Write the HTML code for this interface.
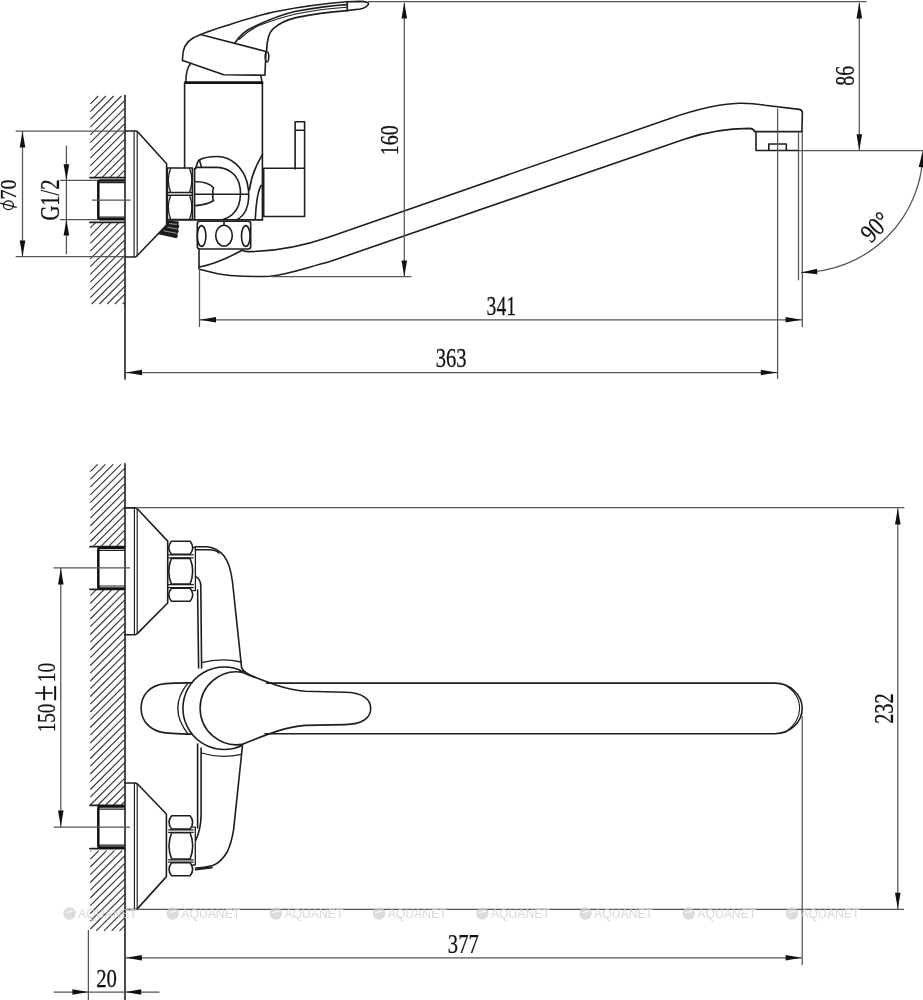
<!DOCTYPE html>
<html><head><meta charset="utf-8">
<style>
html,body{margin:0;padding:0;background:#fff;width:923px;height:1000px;overflow:hidden}
svg{display:block;filter:grayscale(1)}
.o{fill:none;stroke:#1e1e1e;stroke-width:1.6;stroke-linejoin:round;stroke-linecap:round}
.t{fill:none;stroke:#111;stroke-width:2.2}
.d{fill:none;stroke:#555;stroke-width:1.25}
.h{fill:none;stroke:#333;stroke-width:1.1}
.ar{fill:#111;stroke:none}
.tx{font-family:"Liberation Serif",serif;font-size:25px;fill:#111;stroke:#111;stroke-width:0.25;opacity:0.999}
.wm{font-family:"Liberation Sans",sans-serif;font-size:12.2px;fill:#cfcfcf;fill-opacity:0.8}
</style></head><body>
<svg width="923" height="1000" viewBox="0 0 923 1000">
<rect width="923" height="1000" fill="#fff"/>
<!-- ============ TOP VIEW ============ -->
<path class="h" d="M90.3 103.9L98.2 96.0M90.3 111.6L105.9 96.0M90.3 119.4L113.7 96.0M90.3 127.1L121.4 96.0M90.3 134.9L124.6 100.6M90.3 142.6L124.6 108.3M90.3 150.4L124.6 116.1M90.3 158.1L124.6 123.8M90.3 165.9L124.6 131.6M90.3 173.6L124.6 139.3M94.1 177.6L124.6 147.1M101.8 177.6L124.6 154.8M109.6 177.6L124.6 162.6M117.3 177.6L124.6 170.3M90.3 227.9L95.8 222.4M90.3 235.6L103.5 222.4M90.3 243.4L111.3 222.4M90.3 251.1L119.0 222.4M90.3 258.9L124.6 224.6M90.3 266.6L124.6 232.3M90.3 274.4L124.6 240.1M90.3 282.1L124.6 247.8M90.3 289.9L124.6 255.6M90.3 297.6L124.6 263.4M91.7 304.0L124.6 271.1M99.4 304.0L124.6 278.9M107.2 304.0L124.6 286.6M114.9 304.0L124.6 294.4M122.7 304.0L124.6 302.1"/>
<path class="o" style="stroke-width:1.6" d="M125 95.5V379"/>
<path class="o" style="stroke-width:1.7" d="M90 177.6H124.5M90 222.4H124.5"/><path class="t" style="stroke-width:2.5" d="M124.5 180.6H100.3Q98.3 180.6 98.3 182.6V217.2Q98.3 219.2 100.3 219.2H124.5"/><path class="o" style="stroke-width:1.2" d="M99.3 182.6H124.5M99.3 217.2H124.5"/>
<path class="d" d="M92 200H130.5"/>
<!-- escutcheon -->
<path class="o" d="M125 131H135.5L137.4 131.5L166.6 163.8V225L137.8 255L135.5 257H125"/><path class="o" style="stroke-width:1.15" d="M134.1 131.5V256.5M137.2 131.8V256.2"/>
<!-- dims left -->
<path class="d" d="M15.7 131H125M15.7 256.7H125M22.5 131V257M60 180.3H98M60 219.5H98M66.4 145.5V254.2"/>
<!-- nut -->
<path class="o" d="M167.4 168H192.4V219.5H167.4ZM167.4 192.5H192.4M167.4 195.3H192.4"/>
<path class="o" style="stroke-width:1.3" d="M170.6 168.4Q166 180.4 170.6 192.3M189.6 168.4Q194.2 180.4 189.6 192.3M170.6 195.5Q166 207.4 170.6 219.2M189.6 195.5Q194.2 207.4 189.6 219.2"/>
<!-- thread piece -->
<path d="M167 220.6L179 221.5L178.3 224L179.3 226.5L178 229L178.8 231.5L177.3 234L177.8 236.5L176.5 238.3L158.3 234.2L166.4 225.2Z" fill="#1a1a1a"/>
<path d="M169 223.6L177 224.4M167.5 227.2L177.5 229M163.5 230.8L176.5 233.2" stroke="#fff" stroke-width="0.7" stroke-opacity="0.8" fill="none"/>
<!-- body column -->
<path class="o" d="M184.6 82.6V168M262.4 82.6V220"/>
<path class="t" style="stroke-width:2.6" d="M184.4 82.6H263.2"/>
<path class="o" d="M185.8 81.5Q186 69 190.7 63.3M260.6 75.3Q261.7 78 261.7 81.8"/>
<!-- handle -->
<path class="o" d="M182.6 60.6C182 50 186 42 193 38C200 34 215 29 230 24.4C250 18 265 13.5 278.8 11C300 7 325 3.5 347 1.8L360 1.4C366 1.5 369.5 2.5 368.3 4.3C367 6.5 363 8.5 360 9L347 10.6"/>
<path class="o" d="M182.6 60.6L223.8 74.7L264.9 75.3L266 51.4L200.5 34.6"/>
<path class="o" d="M234.9 43C240 35 246 30 254.4 26.5C268 20 283 14 296 11.2C315 7.8 330 5.6 347 4.6"/>
<path class="o" style="stroke-width:1.1" d="M239 39.5C246 32.5 253 28 261 24.8C275 19.5 287 16 297 13.8C315 10.2 330 8.2 347 7.2"/>
<path class="o" d="M266.6 50.4C267 40 269.5 32 273 28.8C280 22.5 288 19.5 296 17.6C315 13.5 330 11.8 347 10.6"/>
<path class="o" d="M347.3 1.6V10.6"/>
<ellipse class="o" cx="267" cy="56.8" rx="1.8" ry="5"/>
<!-- top dimension line -->
<path class="d" d="M368 1.6H866.5"/>
<!-- small vertical rect + lever block -->
<path class="o" d="M295.1 169V121.7H304.6V216.5H263.7V168.3H304.6M295.1 130.3H304.6"/>
<!-- diverter -->
<path class="o" d="M194.6 168.6V219"/>
<path class="o" d="M195.8 168.6C197 163 198 161 199.3 160C204 157 211 156.5 217.5 156.5C232 156.8 243 168 247 182C249.5 192 249 203 246 210C243.5 215 240.5 218 237 219.6"/>
<path class="o" d="M195.8 167.4H216C228 167.4 236 174 239 183C241 190 241 198 238.5 205.5C236 212 231 217 223 219.6"/>
<path class="o" d="M199.5 160L201.5 167.4"/>
<path class="o" d="M195.8 181.7C202 181.5 209 183 213.6 187.7C212.5 190 212.5 192 213 194.2C212.5 197 212.5 199 213.6 200.5C210 203 205 205 195.8 205.6"/>
<path class="o" d="M194.6 194.2H248.2"/>
<path class="o" d="M262.5 154.3C256 165 251 178 249.4 190M261.3 185.3C257 192 256 205 255.3 218.7"/>
<path class="o" style="stroke-width:1.7" d="M167 219.9H262.4"/>
<!-- ring -->
<rect class="o" x="197.3" y="221.3" width="53.4" height="27.7" rx="2.5"/>
<ellipse class="o" cx="201.6" cy="236" rx="4.3" ry="10.4"/>
<ellipse class="o" cx="224" cy="235.6" rx="8.3" ry="10.4"/>
<ellipse class="o" cx="245.8" cy="236" rx="4.3" ry="10.4"/>
<path class="o" d="M224 221.5V225.2"/>
<!-- spout -->
<path class="o" d="M199 249V268.5M199.5 267C210 265 228 258 242 250.3"/>
<path class="o" d="M242 250.2C245 251.5 247 251.8 250 251.6C270 251.3 300 247.1 330 236.7L670 118.4C690 111.4 715 104 739.5 103.2C750 103 758 104 765 105.2L799.3 109.4Q802.4 110 802.4 113L801.9 131.4"/>
<path class="o" d="M199 269C210 272 218 274.5 230 275.5C245 276.6 258 276.8 270 276.3C290 274 305 268 330 261.5L685 139.1C705 132.2 728 128.6 749.5 128.4Q753.5 128.6 754.6 131.4"/>
<!-- aerator -->
<path class="o" d="M754.6 131.6H802.4M756 131.6V150.5H798.5M768.8 150.5V144H786.3V150.5"/>
<!-- top-right dims -->
<path class="d" d="M798.5 131.6V280.3M802.3 131.6V327M777.6 108.5V379M859.3 3V150.5M798.5 150.5H923M404.3 3V277M271.7 276.7H411.4M199.5 268V327M200 319.8H802M126 372.5H777.6"/>
<path class="d" d="M923 150.5A122 122 0 0 1 801 272.5"/>
<!-- texts top -->

<!-- ============ BOTTOM VIEW ============ -->
<path class="h" d="M90.3 471.7L97.7 464.3M90.3 479.4L105.4 464.3M90.3 487.2L113.2 464.3M90.3 494.9L120.9 464.3M90.3 502.7L124.6 468.4M90.3 510.4L124.6 476.1M90.3 518.2L124.6 483.9M90.3 526.0L124.6 491.6M90.3 533.7L124.6 499.4M90.3 541.5L124.6 507.1M93.6 545.9L124.6 514.9M101.4 545.9L124.6 522.6M109.1 545.9L124.6 530.4M116.9 545.9L124.6 538.1M90.3 595.7L96.3 589.7M90.3 603.5L104.0 589.7M90.3 611.2L111.8 589.7M90.3 619.0L119.5 589.7M90.3 626.7L124.6 592.4M90.3 634.5L124.6 600.1M90.3 642.2L124.6 607.9M90.3 650.0L124.6 615.6M90.3 657.7L124.6 623.4M90.3 665.5L124.6 631.1M90.3 673.2L124.6 638.9M90.3 681.0L124.6 646.6M90.3 688.7L124.6 654.4M90.3 696.5L124.6 662.1M90.3 704.2L124.6 669.9M90.3 712.0L124.6 677.6M90.3 719.7L124.6 685.4M90.3 727.5L124.6 693.1M90.3 735.2L124.6 700.9M90.3 743.0L124.6 708.6M90.3 750.7L124.6 716.4M90.3 758.5L124.6 724.1M90.3 766.2L124.6 731.9M90.3 774.0L124.6 739.6M90.3 781.7L124.6 747.4M90.3 789.5L124.6 755.1M90.3 797.2L124.6 762.9M90.3 805.0L124.6 770.6M97.5 805.5L124.6 778.4M105.2 805.5L124.6 786.1M113.0 805.5L124.6 793.9M120.8 805.5L124.6 801.6M90.3 851.5L91.1 850.6M90.3 859.2L98.9 850.6M90.3 867.0L106.6 850.6M90.3 874.7L114.4 850.6M90.3 882.5L122.1 850.6M90.3 890.2L124.6 855.9M90.3 898.0L124.6 863.6M90.3 905.7L124.6 871.4M90.3 913.5L124.6 879.1M90.3 921.2L124.6 886.9M90.3 929.0L124.6 894.6M96.2 930.8L124.6 902.4M104.0 930.8L124.6 910.1M111.7 930.8L124.6 917.9M119.5 930.8L124.6 925.6"/>
<path class="o" style="stroke-width:1.6" d="M125 463.8V1000"/>
<path class="o" style="stroke-width:1.7" d="M90 546.7H124.5M90 589.3H124.5"/><path class="t" style="stroke-width:2.5" d="M124.5 547.8H100.3Q98.3 547.8 98.3 549.8V586.4Q98.3 588.4 100.3 588.4H124.5"/><path class="o" style="stroke-width:1.2" d="M99.3 550.3H124.5M99.3 586.0H124.5"/><path class="o" style="stroke-width:1.7" d="M90 805.4H124.5M90 848.6H124.5"/><path class="t" style="stroke-width:2.5" d="M124.5 806.6H100.3Q98.3 806.6 98.3 808.6V845.6Q98.3 847.6 100.3 847.6H124.5"/><path class="o" style="stroke-width:1.2" d="M99.3 809.2H124.5M99.3 845.2H124.5"/>
<path class="d" d="M53.6 567.8H130M53.7 827H130M60.8 567.8V827"/>
<!-- escutcheons -->
<path class="o" d="M125 507.9H135.5L137.5 509L167.7 541.1V603L137.5 633.4L135.5 634.7H125"/><path class="o" style="stroke-width:1.15" d="M134.4 508.5V634.2M137.2 509.3V633.6"/>
<path class="o" d="M125 783H135.5L137.5 784L166.4 814V876.6L137.5 908.6L135.5 909.5H125"/><path class="o" style="stroke-width:1.15" d="M134.4 783.5V909M137.2 784.3V908.3"/>
<!-- nuts -->
<path class="o" d="M171.4 541.3H190.1Q195.3 547.8 190.1 554.2H171.4Q166.2 547.8 171.4 541.3ZM171.4 558.4H190.1Q195.3 571.2 190.1 584.1H171.4Q166.2 571.2 171.4 558.4ZM171.4 588.2H190.1Q195.3 594.8 190.1 601.3H171.4Q166.2 594.8 171.4 588.2Z"/><path class="o" style="stroke-width:1.3" d="M168.3 554.8H193.2M168.3 557.8H193.2M168.3 584.7H193.2M168.3 587.6H193.2M192.7 547.4H195.4V590.6H192.7"/><path class="o" d="M171.6 815.8H190.1Q195.3 822.5 190.1 829.1H171.6Q166.4 822.5 171.6 815.8ZM171.6 832.8H190.1Q195.3 845.9 190.1 859.0H171.6Q166.4 845.9 171.6 832.8ZM171.6 862.7H190.1Q195.3 869.2 190.1 875.7H171.6Q166.4 869.2 171.6 862.7Z"/><path class="o" style="stroke-width:1.3" d="M168.5 829.8H193.2M168.5 832.3H193.2M168.5 859.8H193.2M168.5 862.2H193.2M192.7 827.2H195.3V865.0H192.7"/>
<!-- body upper -->
<path class="o" d="M195.4 546.8H207.2C214 547.5 220 551 224 556C228 561 231 570 232.5 582L241.6 667.6C243 671 248 674.5 255 677.3"/>
<path class="o" d="M195.4 549.8H209C215 550 217.5 551.5 219 553"/>
<path class="o" d="M195.5 576.4C198.5 578 200.5 581 200.8 585L201.6 668M197.6 590L198.6 668"/>

<!-- body lower -->
<path class="o" d="M197.6 744V828M201.1 748V815C201 825 199 833 196 840"/>
<path class="o" d="M242.4 746.4L233.6 829.6C232 840 229.5 847 227.2 852C223 859 218 863.5 212.8 865.6C206 867.5 200 868 195.5 868M195.5 869.8L212 867.6"/>

<!-- lever / knob -->
<path class="o" d="M191.6 682.8L188.1 682.9C180 683 172 683.2 165.3 683.6C150 685 141.1 695 141.1 707.9C141.1 721 150 731 165.3 732.9C172 733.6 180 734 188.1 734.1L191.8 734.1"/>
<path class="o" style="stroke-width:1.3" d="M188.1 682.9Q167.5 708 188.1 734.1"/>
<path class="o" d="M243.5 671.9A41.2 41.2 0 1 0 242.4 745.2"/>
<path class="o" d="M242 672.2A36.5 36.5 0 1 0 242 744.4"/>
<path class="o" d="M240 671.4C262 680.2 285 690 305 691.2L345 692.2C362 692.4 370.7 699 370.7 708.4C370.7 718 362 724.4 345 724.6L305 725.4C285 726.6 262 736.4 240 745.2"/>
<path class="o" style="stroke-width:1.3" d="M201.6 662.6Q221 657.5 241.2 662M201.6 753Q221 759 241.2 754.3"/>
<!-- spout plan -->
<path class="o" d="M266.5 683.1H775C790 683.1 802.2 695 802.2 708.4C802.2 722 790 733.7 775 733.7H265"/>
<path class="o" style="stroke-width:1.1" d="M785 685C795 691 799.6 700 799.6 708.4C799.6 717 795 725 786 731.8"/>
<!-- bottom dims -->
<path class="d" d="M137 507.6H904.4M897.8 508.5V908.8M137 909.4H904M802.2 716V965M126 957.8H802M88.4 930V1000M53.7 992H159.5"/>
<path d="M22.5 131.5L25.3 147.5L19.7 147.5Z" class="ar"/>
<path d="M22.5 256.5L19.7 240.5L25.3 240.5Z" class="ar"/>
<path d="M66.4 180.3L63.6 164.3L69.2 164.3Z" class="ar"/>
<path d="M66.4 219.6L69.2 235.6L63.6 235.6Z" class="ar"/>
<path d="M404.3 2.6L407.1 18.6L401.5 18.6Z" class="ar"/>
<path d="M404.3 276.5L401.5 260.5L407.1 260.5Z" class="ar"/>
<path d="M859.3 2.6L862.1 18.6L856.5 18.6Z" class="ar"/>
<path d="M859.3 150.3L856.5 134.3L862.1 134.3Z" class="ar"/>
<path d="M200.0 319.8L216.0 317.0L216.0 322.6Z" class="ar"/>
<path d="M801.6 319.8L785.6 322.6L785.6 317.0Z" class="ar"/>
<path d="M126.0 372.5L142.0 369.7L142.0 375.3Z" class="ar"/>
<path d="M776.8 372.5L760.8 375.3L760.8 369.7Z" class="ar"/>
<path d="M922.6 151.2L924.3 167.4L918.7 167.0Z" class="ar"/>
<path d="M801.2 272.6L817.0 268.7L817.4 274.3Z" class="ar"/>
<path d="M60.8 568.5L63.6 584.5L58.0 584.5Z" class="ar"/>
<path d="M60.8 826.5L58.0 810.5L63.6 810.5Z" class="ar"/>
<path d="M897.8 508.5L900.6 524.5L895.0 524.5Z" class="ar"/>
<path d="M897.8 908.8L895.0 892.8L900.6 892.8Z" class="ar"/>
<path d="M125.8 957.8L141.8 955.0L141.8 960.6Z" class="ar"/>
<path d="M801.6 957.8L785.6 960.6L785.6 955.0Z" class="ar"/>
<path d="M88.4 992.0L72.4 994.8L72.4 989.2Z" class="ar"/>
<path d="M125.2 992.0L141.2 989.2L141.2 994.8Z" class="ar"/>
<text class="tx" style="font-size:23.28px" transform="translate(16.23 199.40) rotate(-90) scale(0.859 1)">70</text>
<ellipse cx="8.45" cy="205.3" rx="5.0" ry="4.4" fill="none" stroke="#111" stroke-width="1.2"/><path d="M0.3 203.2L16.7 207.4" stroke="#111" stroke-width="1.2"/>
<text class="tx" style="font-size:26.76px" transform="translate(58.86 220.52) rotate(-90) scale(0.769 1)">G1/2</text>
<text class="tx" style="font-size:25.59px" transform="translate(398.39 155.30) rotate(-90) scale(0.782 1)">160</text>
<text class="tx" style="font-size:27.16px" transform="translate(854.26 85.69) rotate(-90) scale(0.728 1)">86</text>
<text class="tx" style="font-size:26.57px" transform="translate(486.62 314.83) scale(0.739 1)">341</text>
<text class="tx" style="font-size:26.87px" transform="translate(435.77 367.26) scale(0.766 1)">363</text>
<text class="tx" style="font-size:25.74px" transform="translate(54.59 732.33) rotate(-90) scale(0.746 1)">150</text>
<text class="tx" style="font-size:34.82px" transform="translate(55.90 701.19) rotate(-90) scale(0.855 1)">±</text>
<text class="tx" style="font-size:25.74px" transform="translate(54.59 682.26) rotate(-90) scale(0.759 1)">10</text>
<text class="tx" style="font-size:26.52px" transform="translate(892.73 723.81) rotate(-90) scale(0.768 1)">232</text>
<text class="tx" style="font-size:26.97px" transform="translate(447.87 953.13) scale(0.765 1)">377</text>
<text class="tx" style="font-size:26.12px" transform="translate(96.17 986.78) scale(0.795 1)">20</text>
<text class="tx" style="font-size:26.18px" transform="translate(870.94 243.73) rotate(-45) scale(0.818 1)">90°</text>
<g transform="translate(69.5,913.5)"><circle r="6.2" fill="#d0d0d0" fill-opacity="0.75"/><path d="M-3.6 -0.4Q0 -2.4 3.6 -2.1" stroke="#fff" stroke-opacity="0.8" stroke-width="1.1" fill="none"/><text x="8.6" y="4.9" class="wm">AQUANET</text></g>
<g transform="translate(172.7,913.5)"><circle r="6.2" fill="#d0d0d0" fill-opacity="0.75"/><path d="M-3.6 -0.4Q0 -2.4 3.6 -2.1" stroke="#fff" stroke-opacity="0.8" stroke-width="1.1" fill="none"/><text x="8.6" y="4.9" class="wm">AQUANET</text></g>
<g transform="translate(275.9,913.5)"><circle r="6.2" fill="#d0d0d0" fill-opacity="0.75"/><path d="M-3.6 -0.4Q0 -2.4 3.6 -2.1" stroke="#fff" stroke-opacity="0.8" stroke-width="1.1" fill="none"/><text x="8.6" y="4.9" class="wm">AQUANET</text></g>
<g transform="translate(379.1,913.5)"><circle r="6.2" fill="#d0d0d0" fill-opacity="0.75"/><path d="M-3.6 -0.4Q0 -2.4 3.6 -2.1" stroke="#fff" stroke-opacity="0.8" stroke-width="1.1" fill="none"/><text x="8.6" y="4.9" class="wm">AQUANET</text></g>
<g transform="translate(482.3,913.5)"><circle r="6.2" fill="#d0d0d0" fill-opacity="0.75"/><path d="M-3.6 -0.4Q0 -2.4 3.6 -2.1" stroke="#fff" stroke-opacity="0.8" stroke-width="1.1" fill="none"/><text x="8.6" y="4.9" class="wm">AQUANET</text></g>
<g transform="translate(585.5,913.5)"><circle r="6.2" fill="#d0d0d0" fill-opacity="0.75"/><path d="M-3.6 -0.4Q0 -2.4 3.6 -2.1" stroke="#fff" stroke-opacity="0.8" stroke-width="1.1" fill="none"/><text x="8.6" y="4.9" class="wm">AQUANET</text></g>
<g transform="translate(688.7,913.5)"><circle r="6.2" fill="#d0d0d0" fill-opacity="0.75"/><path d="M-3.6 -0.4Q0 -2.4 3.6 -2.1" stroke="#fff" stroke-opacity="0.8" stroke-width="1.1" fill="none"/><text x="8.6" y="4.9" class="wm">AQUANET</text></g>
<g transform="translate(791.9,913.5)"><circle r="6.2" fill="#d0d0d0" fill-opacity="0.75"/><path d="M-3.6 -0.4Q0 -2.4 3.6 -2.1" stroke="#fff" stroke-opacity="0.8" stroke-width="1.1" fill="none"/><text x="8.6" y="4.9" class="wm">AQUANET</text></g>
</svg>
</body></html>
